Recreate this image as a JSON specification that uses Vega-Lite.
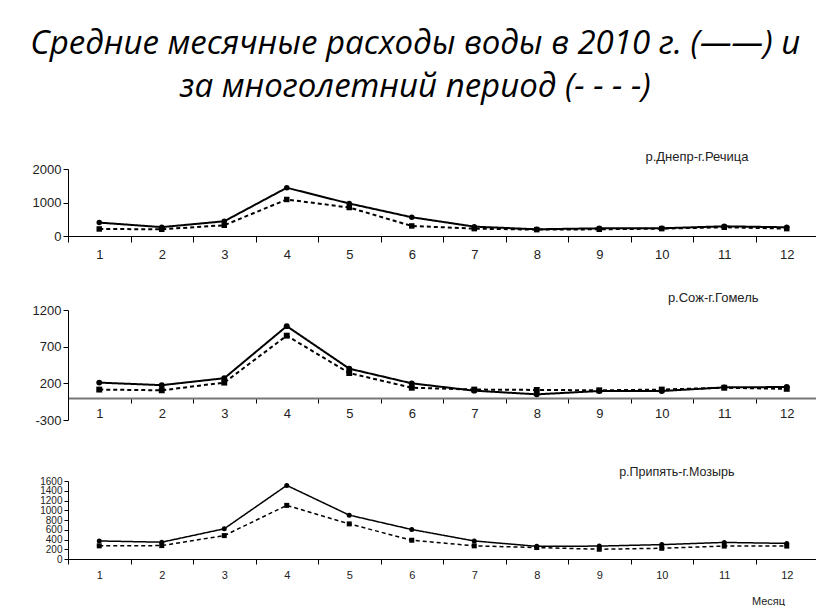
{
  "$schema": "https://vega.github.io/schema/vega-lite/v6.json",
  "padding": {"left": 30, "top": 28, "right": 0, "bottom": 0},
  "title": {
    "text": ["Средние месячные расходы воды в 2010 г. (——) и", "за многолетний период (- - - -)"],
    "font": "Open Sans",
    "fontSize": 33,
    "fontStyle": "italic",
    "fontWeight": "normal",
    "color": "black",
    "anchor": "middle",
    "dx": -10,
    "lineHeight": 43,
    "offset": 47
  },
  "data": {"values": [
    {"river": "Днепр", "month": 1, "series": "2010", "value": 400},
    {"river": "Днепр", "month": 2, "series": "2010", "value": 265},
    {"river": "Днепр", "month": 3, "series": "2010", "value": 440},
    {"river": "Днепр", "month": 4, "series": "2010", "value": 1440},
    {"river": "Днепр", "month": 5, "series": "2010", "value": 970},
    {"river": "Днепр", "month": 6, "series": "2010", "value": 560},
    {"river": "Днепр", "month": 7, "series": "2010", "value": 280},
    {"river": "Днепр", "month": 8, "series": "2010", "value": 200},
    {"river": "Днепр", "month": 9, "series": "2010", "value": 230},
    {"river": "Днепр", "month": 10, "series": "2010", "value": 230},
    {"river": "Днепр", "month": 11, "series": "2010", "value": 290},
    {"river": "Днепр", "month": 12, "series": "2010", "value": 260},
    {"river": "Днепр", "month": 1, "series": "mean", "value": 210},
    {"river": "Днепр", "month": 2, "series": "mean", "value": 200},
    {"river": "Днепр", "month": 3, "series": "mean", "value": 320},
    {"river": "Днепр", "month": 4, "series": "mean", "value": 1090},
    {"river": "Днепр", "month": 5, "series": "mean", "value": 850},
    {"river": "Днепр", "month": 6, "series": "mean", "value": 300},
    {"river": "Днепр", "month": 7, "series": "mean", "value": 220},
    {"river": "Днепр", "month": 8, "series": "mean", "value": 190},
    {"river": "Днепр", "month": 9, "series": "mean", "value": 200},
    {"river": "Днепр", "month": 10, "series": "mean", "value": 220},
    {"river": "Днепр", "month": 11, "series": "mean", "value": 260},
    {"river": "Днепр", "month": 12, "series": "mean", "value": 220},
    {"river": "Сож", "month": 1, "series": "2010", "value": 210},
    {"river": "Сож", "month": 2, "series": "2010", "value": 175},
    {"river": "Сож", "month": 3, "series": "2010", "value": 270},
    {"river": "Сож", "month": 4, "series": "2010", "value": 980},
    {"river": "Сож", "month": 5, "series": "2010", "value": 400},
    {"river": "Сож", "month": 6, "series": "2010", "value": 200},
    {"river": "Сож", "month": 7, "series": "2010", "value": 100},
    {"river": "Сож", "month": 8, "series": "2010", "value": 50},
    {"river": "Сож", "month": 9, "series": "2010", "value": 95},
    {"river": "Сож", "month": 10, "series": "2010", "value": 95},
    {"river": "Сож", "month": 11, "series": "2010", "value": 145},
    {"river": "Сож", "month": 12, "series": "2010", "value": 150},
    {"river": "Сож", "month": 1, "series": "mean", "value": 115},
    {"river": "Сож", "month": 2, "series": "mean", "value": 105},
    {"river": "Сож", "month": 3, "series": "mean", "value": 210},
    {"river": "Сож", "month": 4, "series": "mean", "value": 850},
    {"river": "Сож", "month": 5, "series": "mean", "value": 340},
    {"river": "Сож", "month": 6, "series": "mean", "value": 140},
    {"river": "Сож", "month": 7, "series": "mean", "value": 115},
    {"river": "Сож", "month": 8, "series": "mean", "value": 110},
    {"river": "Сож", "month": 9, "series": "mean", "value": 105},
    {"river": "Сож", "month": 10, "series": "mean", "value": 115},
    {"river": "Сож", "month": 11, "series": "mean", "value": 140},
    {"river": "Сож", "month": 12, "series": "mean", "value": 125},
    {"river": "Припять", "month": 1, "series": "2010", "value": 370},
    {"river": "Припять", "month": 2, "series": "2010", "value": 345},
    {"river": "Припять", "month": 3, "series": "2010", "value": 620},
    {"river": "Припять", "month": 4, "series": "2010", "value": 1510},
    {"river": "Припять", "month": 5, "series": "2010", "value": 900},
    {"river": "Припять", "month": 6, "series": "2010", "value": 605},
    {"river": "Припять", "month": 7, "series": "2010", "value": 370},
    {"river": "Припять", "month": 8, "series": "2010", "value": 260},
    {"river": "Припять", "month": 9, "series": "2010", "value": 265},
    {"river": "Припять", "month": 10, "series": "2010", "value": 295},
    {"river": "Припять", "month": 11, "series": "2010", "value": 340},
    {"river": "Припять", "month": 12, "series": "2010", "value": 320},
    {"river": "Припять", "month": 1, "series": "mean", "value": 270},
    {"river": "Припять", "month": 2, "series": "mean", "value": 275},
    {"river": "Припять", "month": 3, "series": "mean", "value": 480},
    {"river": "Припять", "month": 4, "series": "mean", "value": 1100},
    {"river": "Припять", "month": 5, "series": "mean", "value": 720},
    {"river": "Припять", "month": 6, "series": "mean", "value": 385},
    {"river": "Припять", "month": 7, "series": "mean", "value": 270},
    {"river": "Припять", "month": 8, "series": "mean", "value": 235},
    {"river": "Припять", "month": 9, "series": "mean", "value": 200},
    {"river": "Припять", "month": 10, "series": "mean", "value": 220},
    {"river": "Припять", "month": 11, "series": "mean", "value": 265},
    {"river": "Припять", "month": 12, "series": "mean", "value": 265}
  ]},
  "spacing": 31,
  "vconcat": [
    {
      "title": {"text": "р.Днепр-г.Речица", "anchor": "end", "dx": -70, "offset": -1, "fontSize": 13, "fontWeight": "normal", "font": "Liberation Sans", "color": "#222"},
      "width": 750, "height": 67,
      "transform": [{"filter": "datum.river === 'Днепр'"}],
      "encoding": {
        "x": {"field": "month", "type": "ordinal", "scale": {"type": "band", "paddingInner": 0, "paddingOuter": 0},
              "axis": {"title": null, "labelAngle": 0, "tickBand": "extent", "labelFontSize": 13, "labelPadding": 6, "tickSize": 6, "domainColor": "black", "tickColor": "black", "labelColor": "#222", "labelFont": "Liberation Sans"}},
        "y": {"field": "value", "type": "quantitative", "scale": {"domain": [0, 2000]},
              "axis": {"title": null, "grid": false, "values": [0, 1000, 2000], "labelExpr": "'' + datum.value", "labelFontSize": 13, "tickSize": 5, "domainColor": "black", "tickColor": "black", "labelColor": "#222", "labelFont": "Liberation Sans"}}
      },
      "layer": [
        {"mark": {"type": "line", "color": "black", "strokeWidth": 2},
         "encoding": {"strokeDash": {"field": "series", "type": "nominal", "scale": {"domain": ["2010", "mean"], "range": [[1, 0], [4, 3]]}, "legend": null}}},
        {"mark": {"type": "point", "filled": true, "color": "black", "opacity": 1, "size": 30},
         "encoding": {"shape": {"field": "series", "type": "nominal", "scale": {"domain": ["2010", "mean"], "range": ["circle", "square"]}, "legend": null}}}
      ]
    },
    {
      "spacing": 38,
      "vconcat": [
        {
          "title": {"text": "р.Сож-г.Гомель", "anchor": "end", "dx": -60, "offset": -1, "fontSize": 13, "fontWeight": "normal", "font": "Liberation Sans", "color": "#222"},
          "width": 750, "height": 110,
          "transform": [{"filter": "datum.river === 'Сож'"}],
          "encoding": {
            "x": {"field": "month", "type": "ordinal", "scale": {"type": "band", "paddingInner": 0, "paddingOuter": 0},
                  "axis": {"title": null, "labelAngle": 0, "tickBand": "extent", "offset": -22, "labelFontSize": 13, "labelPadding": 4, "tickSize": 5, "domainColor": "#777", "domainWidth": 2, "tickColor": "black", "labelColor": "#222", "labelFont": "Liberation Sans"}},
            "y": {"field": "value", "type": "quantitative", "scale": {"domain": [-300, 1200], "zero": false},
                  "axis": {"title": null, "grid": false, "values": [-300, 200, 700, 1200], "labelExpr": "'' + datum.value", "labelFontSize": 13, "tickSize": 5, "domainColor": "black", "tickColor": "black", "labelColor": "#222", "labelFont": "Liberation Sans"}}
          },
          "layer": [
            {"mark": {"type": "line", "color": "black", "strokeWidth": 2},
             "encoding": {"strokeDash": {"field": "series", "type": "nominal", "scale": {"domain": ["2010", "mean"], "range": [[1, 0], [4, 3]]}, "legend": null}}},
            {"mark": {"type": "point", "filled": true, "color": "black", "opacity": 1, "size": 35},
             "encoding": {"shape": {"field": "series", "type": "nominal", "scale": {"domain": ["2010", "mean"], "range": ["circle", "square"]}, "legend": null}}}
          ]
        },
        {
          "title": {"text": "р.Припять-г.Мозырь", "anchor": "end", "dx": -84, "offset": -2, "fontSize": 12.5, "fontWeight": "normal", "font": "Liberation Sans", "color": "#222"},
          "width": 750, "height": 78,
          "transform": [{"filter": "datum.river === 'Припять'"}],
          "encoding": {
            "x": {"field": "month", "type": "ordinal", "scale": {"type": "band", "paddingInner": 0, "paddingOuter": 0},
                  "axis": {"title": "Месяц", "titleFontSize": 11, "titleFontWeight": "normal", "titleX": 700, "titleY": 42, "titleAlign": "center", "titleBaseline": "middle", "titleColor": "#222", "titleFont": "Liberation Sans", "labelAngle": 0, "tickBand": "extent", "labelFontSize": 11, "labelPadding": 5, "tickSize": 5, "domainColor": "black", "tickColor": "black", "labelColor": "#222", "labelFont": "Liberation Sans"}},
            "y": {"field": "value", "type": "quantitative", "scale": {"domain": [0, 1600]},
                  "axis": {"title": null, "grid": false, "values": [0, 200, 400, 600, 800, 1000, 1200, 1400, 1600], "labelExpr": "'' + datum.value", "labelOverlap": false, "labelFontSize": 10, "tickSize": 4, "domainColor": "black", "tickColor": "black", "labelColor": "#222", "labelFont": "Liberation Sans"}}
          },
          "layer": [
            {"mark": {"type": "line", "color": "black", "strokeWidth": 1.5},
             "encoding": {"strokeDash": {"field": "series", "type": "nominal", "scale": {"domain": ["2010", "mean"], "range": [[1, 0], [3, 2]]}, "legend": null}}},
            {"mark": {"type": "point", "filled": true, "color": "black", "opacity": 1, "size": 25},
             "encoding": {"shape": {"field": "series", "type": "nominal", "scale": {"domain": ["2010", "mean"], "range": ["circle", "square"]}, "legend": null}}}
          ]
        }
      ]
    }
  ],
  "config": {"view": {"stroke": null}}
}
